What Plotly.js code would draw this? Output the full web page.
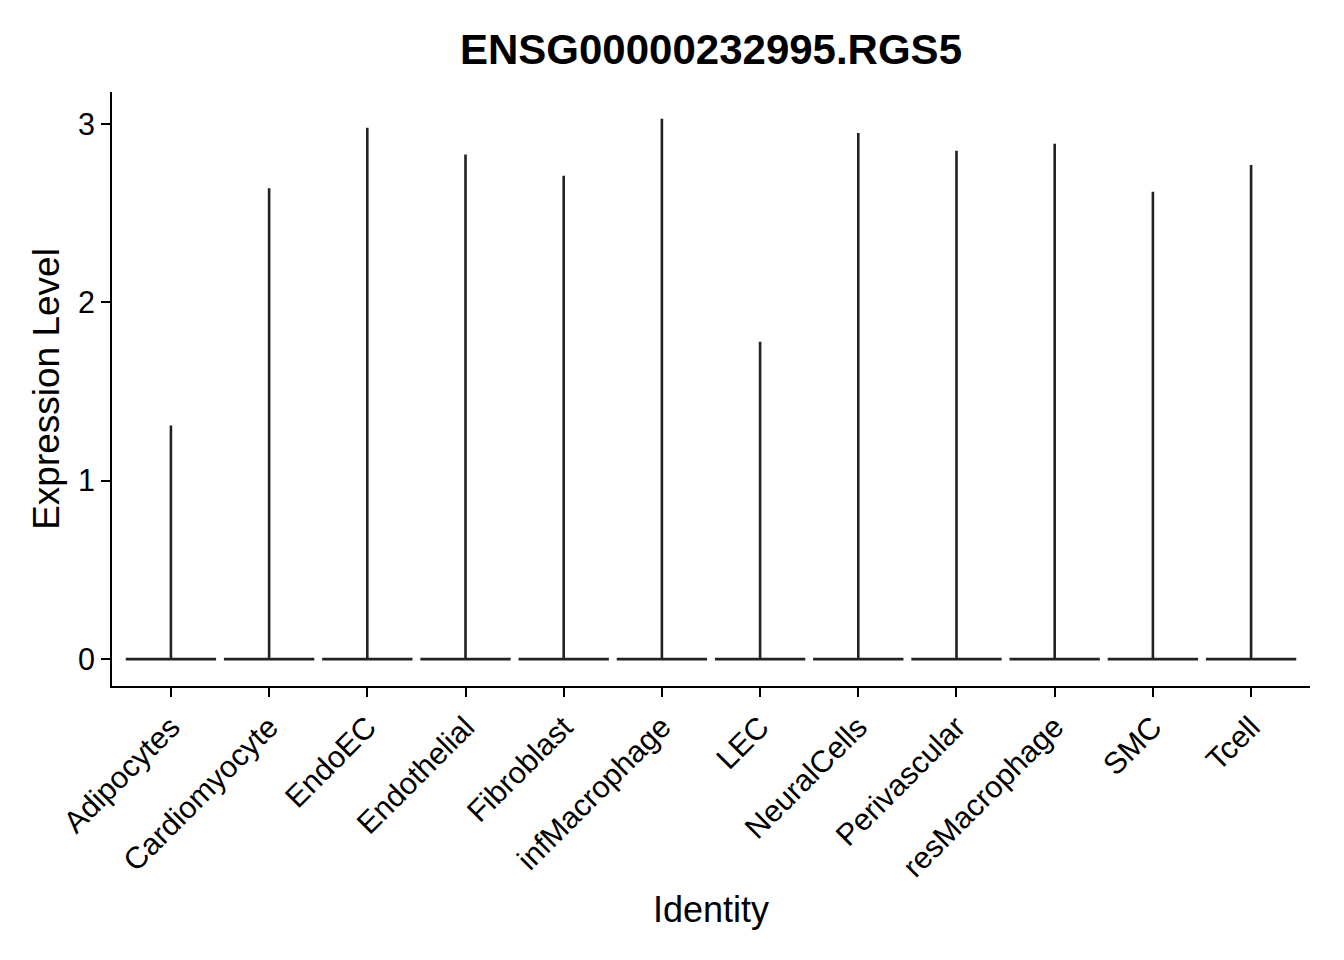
<!DOCTYPE html>
<html>
<head>
<meta charset="utf-8">
<script src="https://cdn.plot.ly/plotly-3.0.1.min.js"></script>
<style>html,body{margin:0;padding:0;background:#fff;}#chart{width:1344px;height:960px;}</style>
</head>
<body>
<div id="chart"></div>
<script>
// Cell identities (x categories)
const categories = ["Adipocytes","Cardiomyocyte","EndoEC","Endothelial","Fibroblast","infMacrophage","LEC","NeuralCells","Perivascular","resMacrophage","SMC","Tcell"];
// Minimum expression per identity (the bulk of cells sits at 0)
const minExpression = [0,0,0,0,0,0,0,0,0,0,0,0];
// Maximum expression per identity (top of each violin)
const maxExpression = [1.31,2.64,2.98,2.83,2.71,3.03,1.78,2.95,2.85,2.89,2.62,2.77];
// Y axis ticks
const yTicks = [0,1,2,3];

const halfWidth = 0.46;   // violin half-width at its widest (style)
const lineColor = "#222222";

const traces = [];
categories.forEach((c, i) => {
  // widest part of the violin (density peak at the minimum value)
  traces.push({
    type: "scatter", mode: "lines",
    x: [i - halfWidth, i, i + halfWidth],
    y: [minExpression[i], minExpression[i], minExpression[i]],
    line: {color: lineColor, width: 2.8},
    hoverinfo: "skip", showlegend: false
  });
  // thin tail of the violin up to the maximum
  traces.push({
    type: "scatter", mode: "lines",
    x: [i, i],
    y: [minExpression[i], maxExpression[i]],
    line: {color: lineColor, width: 2.6},
    name: c, showlegend: false
  });
});

const font = "Liberation Sans, Arial, Helvetica, sans-serif";

const layout = {
  width: 1344, height: 960,
  paper_bgcolor: "#fff", plot_bgcolor: "#fff",
  margin: {l: 112, r: 34, t: 92, b: 274},
  font: {family: font, color: "#000"},
  title: {
    text: "ENSG00000232995.RGS5",
    font: {family: font, size: 42, weight: "bold", color: "#000"},
    x: 0.5, xref: "paper", xanchor: "center",
    y: 1 - 49/960, yref: "container", yanchor: "middle"
  },
  xaxis: {
    range: [-0.6, 11.6],
    tickmode: "array",
    tickvals: categories.map((_, i) => i),
    ticktext: categories,
    tickangle: -45,
    tickfont: {family: font, size: 30.5, color: "#000"},
    ticks: "outside", ticklen: 9, tickwidth: 2, tickcolor: "#000",
    showline: true, linecolor: "#000", linewidth: 2,
    showgrid: false, zeroline: false,
    title: {text: "Identity", font: {family: font, size: 36, color: "#000"}, standoff: 14}
  },
  yaxis: {
    range: [-0.151, 3.18],
    tickmode: "array",
    tickvals: yTicks,
    ticktext: yTicks.map(String),
    tickfont: {family: font, size: 30.5, color: "#000"},
    ticks: "outside", ticklen: 9, tickwidth: 2, tickcolor: "#000",
    showline: true, linecolor: "#000", linewidth: 2,
    showgrid: false, zeroline: false,
    title: {text: "Expression Level", font: {family: font, size: 37, color: "#000"}, standoff: 7}
  }
};

Plotly.newPlot("chart", traces, layout, {displayModeBar: false, staticPlot: true});
</script>
</body>
</html>
